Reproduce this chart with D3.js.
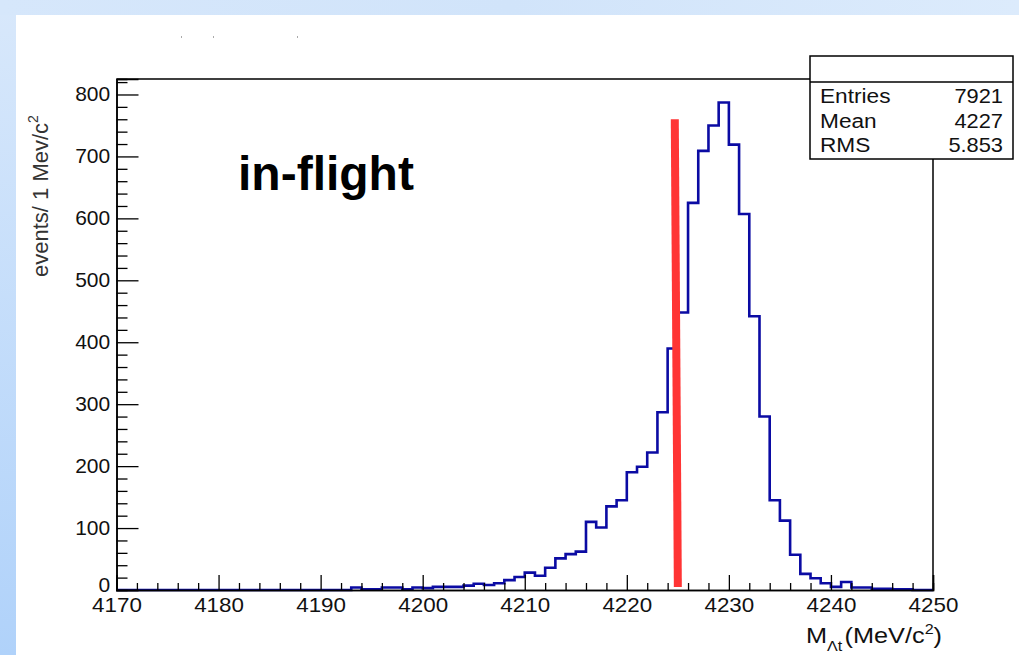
<!DOCTYPE html>
<html>
<head>
<meta charset="utf-8">
<script src="https://cdn.jsdelivr.net/npm/d3@7"></script>
<style>
  html, body { margin: 0; padding: 0; background: #d5e7fb; }
  svg { display: block; }
  text { font-family: "Liberation Sans", Arial, Helvetica, sans-serif; }
</style>
</head>
<body>
<svg id="chart" width="1019" height="655"></svg>
<script>
// Histogram binning: 1 MeV bins from 4170 to 4250
const binLow = 4170;
const binWidth = 1;
// Counts per bin, starting at 4170
const counts = [
  0, 0, 0, 0, 0, 0, 0, 0, 0, 0,          // 4170-4179
  0, 0, 0, 0, 0, 0, 0, 0, 0, 0,          // 4180-4189
  0, 0, 0, 4, 1, 1, 4, 4, 1, 4,          // 4190-4199
  3, 5, 5, 5, 7, 10, 8, 11, 16, 21,      // 4200-4209
  28, 23, 36, 51, 58, 62, 110, 101, 135, 145,   // 4210-4219
  190, 199, 222, 287, 390, 448, 625, 709, 750, 787, // 4220-4229
  719, 607, 442, 280, 145, 112, 57, 26, 19, 11,     // 4230-4239
  5, 13, 4, 4, 2, 2, 1, 1, 0, 0          // 4240-4249
];
const xMajorTicks = [4170, 4180, 4190, 4200, 4210, 4220, 4230, 4240, 4250];
const yMajorTicks = [0, 100, 200, 300, 400, 500, 600, 700, 800];
const statsLabels = ["Entries", "Mean", "RMS"];
const statsValues = ["7921", "4227", "5.853"];
const cutLine = [[4224.7, 760], [4225.0, 5]];
const xDomain = [4170, 4250];
const yDomain = [0, 825];

const svg = d3.select("#chart");

// Slide background: light blue bands around a white panel
const defs = svg.append("defs");
const gTop = defs.append("linearGradient").attr("id", "bandTop")
  .attr("x1", 0).attr("y1", 0).attr("x2", 1).attr("y2", 0);
gTop.append("stop").attr("offset", 0).attr("stop-color", "#d6e7fb");
gTop.append("stop").attr("offset", 0.5).attr("stop-color", "#d1e4fa");
gTop.append("stop").attr("offset", 1).attr("stop-color", "#dcebfc");
const gLeft = defs.append("linearGradient").attr("id", "bandLeft")
  .attr("x1", 0).attr("y1", 0).attr("x2", 0).attr("y2", 1);
gLeft.append("stop").attr("offset", 0).attr("stop-color", "#d8e8fb");
gLeft.append("stop").attr("offset", 1).attr("stop-color", "#b0d2fa");

svg.append("rect").attr("x", 0).attr("y", 0).attr("width", 1019).attr("height", 655).attr("fill", "url(#bandLeft)");
svg.append("rect").attr("x", 0).attr("y", 0).attr("width", 1019).attr("height", 15).attr("fill", "url(#bandTop)");
svg.append("rect").attr("x", 16).attr("y", 15).attr("width", 1003).attr("height", 640).attr("fill", "#ffffff");

// faint specks above the frame
[181, 213, 297].forEach(px => {
  svg.append("rect").attr("x", px).attr("y", 36).attr("width", 1).attr("height", 2).attr("fill", "#aaaaaa");
});

const x = d3.scaleLinear().domain(xDomain).range([116.5, 933]);
const y = d3.scaleLinear().domain(yDomain).range([590, 79]);

// Histogram outline
const steps = counts.map((c, i) => [binLow + i * binWidth, c]);
steps.push([binLow + counts.length * binWidth, counts[counts.length - 1]]);
const stepLine = d3.line().x(d => x(d[0])).y(d => y(d[1])).curve(d3.curveStepAfter);
svg.append("path")
  .attr("d", stepLine(steps))
  .attr("fill", "none")
  .attr("stroke", "#0b0ba3")
  .attr("stroke-width", 2.6)
  .attr("stroke-linejoin", "miter");

// Red cut marker
svg.append("path")
  .attr("d", d3.line().x(d => x(d[0])).y(d => y(d[1]))(cutLine))
  .attr("stroke", "#ff3434")
  .attr("stroke-width", 8)
  .attr("fill", "none");

// Axes, ticks pointing into the frame
const xMinor = d3.range(4170, 4251, 2).filter(v => v % 10 !== 0);
const yMinor = d3.range(0, 825, 20).filter(v => v % 100 !== 0);

const xAxisG = svg.append("g").attr("transform", "translate(0,590)");
xAxisG.append("g").call(d3.axisBottom(x).tickValues(xMinor).tickSize(-7).tickFormat(""));
xAxisG.append("g").call(d3.axisBottom(x).tickValues(xMajorTicks).tickSize(-15).tickPadding(8).tickFormat(d3.format("d")));
xAxisG.selectAll("path.domain").attr("stroke", "#000").attr("stroke-width", 1.5);
xAxisG.selectAll(".tick line").attr("stroke", "#000").attr("stroke-width", 1.3);
xAxisG.selectAll("text").attr("font-size", 20).attr("fill", "#111")
  .attr("transform", "scale(1.12,1)");

const yAxisG = svg.append("g").attr("transform", "translate(116.5,0)");
yAxisG.append("g").call(d3.axisLeft(y).tickValues(yMinor).tickSize(-11).tickFormat(""));
yAxisG.append("g").call(d3.axisLeft(y).tickValues(yMajorTicks).tickSize(-22).tickPadding(6).tickFormat(d3.format("d")));
yAxisG.selectAll("path.domain").attr("stroke", "#000").attr("stroke-width", 1.5);
yAxisG.selectAll(".tick line").attr("stroke", "#000").attr("stroke-width", 1.3);
yAxisG.selectAll("text").attr("font-size", 20).attr("fill", "#111")
  .attr("transform", "scale(1.05,1)");
// the zero label sits a little above its tick, just clear of the 4170 label
yAxisG.selectAll(".tick").filter(d => d === 0).select("text").attr("dy", "0.05em");

// Frame top and right edges
svg.append("path")
  .attr("d", `M${x(4170)},${y(825)}H${x(4250)}V${y(0)}`)
  .attr("fill", "none").attr("stroke", "#000").attr("stroke-width", 1.5);

// Statistics box
const box = svg.append("g");
box.append("rect").attr("x", 810).attr("y", 56).attr("width", 203).attr("height", 103)
  .attr("fill", "#fff").attr("stroke", "#000").attr("stroke-width", 1.5);
box.append("line").attr("x1", 810).attr("x2", 1013).attr("y1", 82).attr("y2", 82)
  .attr("stroke", "#000").attr("stroke-width", 1.5);
statsLabels.forEach((lab, i) => {
  box.append("text").attr("transform", `translate(820,${103 + i * 24.5}) scale(1.08,1)`)
    .attr("font-size", 21).attr("fill", "#111").text(lab);
  box.append("text").attr("transform", `translate(1003,${103 + i * 24.5}) scale(1.04,1)`)
    .attr("font-size", 21).attr("fill", "#111").attr("text-anchor", "end").text(statsValues[i]);
});

// Annotation
svg.append("text").attr("x", 238).attr("y", 190)
  .attr("font-size", 48).attr("font-weight", "bold").attr("fill", "#000")
  .text("in-flight");

// Axis titles
const xt = svg.append("text").attr("transform", "translate(806,643) scale(1.15,1)")
  .attr("font-size", 22).attr("fill", "#111");
xt.append("tspan").text("M");
xt.append("tspan").attr("font-size", 14).attr("dy", 8).text("Λt");
xt.append("tspan").attr("dy", -8).attr("dx", 2).text("(MeV/c");
xt.append("tspan").attr("font-size", 14).attr("dy", -9).text("2");
xt.append("tspan").attr("dy", 9).text(")");

const yt = svg.append("text").attr("transform", "translate(48,277) rotate(-90)")
  .attr("font-size", 22).attr("fill", "#333");
yt.append("tspan").text("events/ 1 Mev/c");
yt.append("tspan").attr("font-size", 14).attr("dy", -10).text("2");
</script>
</body>
</html>
